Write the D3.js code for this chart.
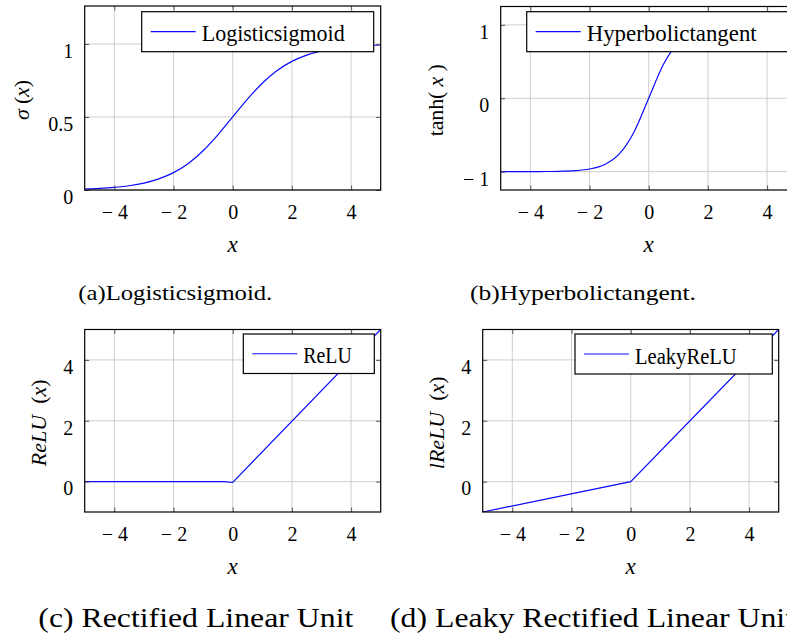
<!DOCTYPE html>
<html>
<head>
<meta charset="utf-8">
<script src="https://cdn.jsdelivr.net/npm/d3@7"></script>
<style>
  body { margin: 0; background: #fff; }
  text { font-family: "Liberation Serif", serif; fill: #000; }
</style>
</head>
<body>
<div id="chart"></div>
<script>
// x samples shared by the smooth curves
var curveX = [-5, -4.5, -4, -3.5, -3, -2.5, -2, -1.5, -1, -0.5, 0, 0.5, 1, 1.5, 2, 2.5, 3, 3.5, 4, 4.5, 5];
// values
var sigmoidY = [0.007, 0.011, 0.018, 0.029, 0.047, 0.076, 0.119, 0.182, 0.269, 0.378, 0.5,
  0.622, 0.731, 0.818, 0.881, 0.924, 0.953, 0.971, 0.982, 0.989, 0.993];
var tanhY = [-1.0, -1.0, -0.999, -0.998, -0.995, -0.987, -0.964, -0.905, -0.762, -0.462, 0,
  0.462, 0.762, 0.905, 0.964, 0.987, 0.995, 0.998, 0.999, 1.0, 1.0];
var reluX = [-5, -0.3, 0, 5];
var reluY = [0, 0, -0.03, 5];
var leakyX = [-5, 0, 5];
var leakyY = [-1, 0, 5];

var xTicks = [-4, -2, 0, 2, 4];
var sigmoidTicks = [0, 0.5, 1];
var tanhTicks = [-1, 0, 1];
var reluTicks = [0, 2, 4];

var legendNames = ['Logisticsigmoid', 'Hyperbolictangent', 'ReLU', 'LeakyReLU'];
var captionsTop = ['(a)Logisticsigmoid.', '(b)Hyperbolictangent.'];
var captionsBottom = ['(c) Rectified Linear Unit', '(d) Leaky Rectified Linear Unit'];

var fmt = function(d) { return d < 0 ? '\u2212 ' + Math.abs(d) : String(d); };
var blue = '#0a0aff';

var svg = d3.select('#chart').append('svg')
  .attr('width', 787)
  .attr('height', 635)
  .style('display', 'block');

var panels = [
  { left: 84.7, top: 6, w: 296, h: 184, yDomain: [0, 1.26], yTicks: sigmoidTicks,
    xs: curveX, ys: sigmoidY, smooth: true, name: legendNames[0],
    legend: { x: 57, y: 5.7, w: 232, h: 40, tw: 143 },
    ylabel: [['\u03c3', true], [' (', false], ['x', true], [')', false]], ylabX: 28.5, ylabLen: 40 },
  { left: 500.7, top: 6.5, w: 296, h: 183.5, yDomain: [-1.25, 1.25], yTicks: tanhTicks,
    xs: curveX, ys: tanhY, smooth: true, name: legendNames[1],
    legend: { x: 26, y: 5.2, w: 263, h: 40, tw: 170 },
    ylabel: [['tanh( ', false], ['x', true], [' )', false]], ylabX: 443, ylabLen: 72 },
  { left: 84.7, top: 329.5, w: 296, h: 182.5, yDomain: [-1, 5], yTicks: reluTicks,
    xs: reluX, ys: reluY, smooth: false, name: legendNames[2],
    legend: { x: 158.6, y: 4.5, w: 131, h: 39.5, tw: 48.5 },
    ylabel: [['ReLU', true], ['  (', false], ['x', true], [')', false]], ylabX: 45.5, ylabLen: null },
  { left: 482.7, top: 329.5, w: 296, h: 182.5, yDomain: [-1, 5], yTicks: reluTicks,
    xs: leakyX, ys: leakyY, smooth: false, name: legendNames[3],
    legend: { x: 92.3, y: 4.5, w: 197.3, h: 40, tw: 101.7 },
    ylabel: [['lReLU', true], ['  (', false], ['x', true], [')', false]], ylabX: 444, ylabLen: null }
];

panels.forEach(function(p, i) { drawPanel(p, i); });

function drawPanel(p, i) {
  var g = svg.append('g').attr('transform', 'translate(' + p.left + ',' + p.top + ')');
  var x = d3.scaleLinear().domain([-5, 5]).range([0, p.w]);
  var y = d3.scaleLinear().domain(p.yDomain).range([p.h, 0]);

  // grid
  g.append('g').selectAll('line.gx').data(xTicks).enter().append('line')
    .attr('x1', function(d) { return x(d); }).attr('x2', function(d) { return x(d); })
    .attr('y1', 0).attr('y2', p.h)
    .attr('stroke', '#cfcfcf').attr('stroke-width', 1);
  g.append('g').selectAll('line.gy').data(p.yTicks).enter().append('line')
    .attr('y1', function(d) { return y(d); }).attr('y2', function(d) { return y(d); })
    .attr('x1', 0).attr('x2', p.w)
    .attr('stroke', '#cfcfcf').attr('stroke-width', 1);

  // curve
  var clipId = 'clip' + i;
  g.append('clipPath').attr('id', clipId).append('rect')
    .attr('width', p.w).attr('height', p.h);
  var pts = p.xs.map(function(v, k) { return [v, p.ys[k]]; });
  var line = d3.line()
    .x(function(d) { return x(d[0]); })
    .y(function(d) { return y(d[1]); })
    .curve(p.smooth ? d3.curveMonotoneX : d3.curveLinear);
  g.append('path').datum(pts)
    .attr('clip-path', 'url(#' + clipId + ')')
    .attr('fill', 'none').attr('stroke', blue).attr('stroke-width', 1.2)
    .attr('d', line);

  // ticks on all four sides, pointing inward
  var bottom = g.append('g').attr('transform', 'translate(0,' + p.h + ')')
    .call(d3.axisBottom(x).tickValues(xTicks).tickSize(-4.5).tickFormat(fmt));
  g.append('g').call(d3.axisTop(x).tickValues(xTicks).tickSize(-4.5).tickFormat(''));
  var left = g.append('g')
    .call(d3.axisLeft(y).tickValues(p.yTicks).tickSize(-4.5).tickFormat(fmt));
  g.append('g').attr('transform', 'translate(' + p.w + ',0)')
    .call(d3.axisRight(y).tickValues(p.yTicks).tickSize(-4.5).tickFormat(''));
  g.selectAll('.domain').remove();
  g.selectAll('.tick line').attr('stroke', '#555');
  bottom.selectAll('.tick text')
    .attr('y', 28.5).attr('dy', null)
    .style('font-size', '20px').style('font-family', '"Liberation Serif", serif');
  // labels of the y axis hang below their tick, as in the source figure
  left.selectAll('.tick text')
    .attr('x', -11.5).attr('dy', '0.67em')
    .style('font-size', '20px').style('font-family', '"Liberation Serif", serif');

  // frame
  g.append('rect').attr('width', p.w).attr('height', p.h)
    .attr('fill', 'none').attr('stroke', '#000').attr('stroke-width', 1.2);

  // legend
  var lg = g.append('g').attr('transform', 'translate(' + p.legend.x + ',' + p.legend.y + ')');
  lg.append('rect').attr('width', p.legend.w).attr('height', p.legend.h)
    .attr('fill', '#fff').attr('stroke', '#000').attr('stroke-width', 1.2);
  lg.append('line')
    .attr('x1', 9).attr('x2', 54).attr('y1', p.legend.h / 2).attr('y2', p.legend.h / 2)
    .attr('stroke', blue).attr('stroke-width', 1.2);
  lg.append('text').text(p.name)
    .attr('x', 60).attr('y', p.legend.h / 2 + 9.5)
    .attr('textLength', p.legend.tw).attr('lengthAdjust', 'spacingAndGlyphs')
    .style('font-size', '23px');

  // axis labels
  g.append('text').text('x')
    .attr('x', p.w / 2).attr('y', p.h + 61.5)
    .attr('text-anchor', 'middle')
    .style('font-size', '23px').style('font-style', 'italic');

  var yl = svg.append('text')
    .attr('transform', 'translate(' + p.ylabX + ',' + (p.top + p.h / 2 + 2) + ') rotate(-90)')
    .attr('text-anchor', 'middle')
    .style('font-size', '22px')
    .style('white-space', 'pre');
  if (p.ylabLen) yl.attr('textLength', p.ylabLen).attr('lengthAdjust', 'spacing');
  p.ylabel.forEach(function(part) {
    yl.append('tspan').text(part[0]).style('font-style', part[1] ? 'italic' : 'normal');
  });
}

// captions
svg.selectAll('text.capTop').data(captionsTop).enter().append('text')
  .attr('class', 'capTop')
  .attr('x', function(d, i) { return i === 0 ? 78.3 : 470; })
  .attr('y', 300)
  .attr('textLength', function(d, i) { return i === 0 ? 194 : 226; })
  .attr('lengthAdjust', 'spacingAndGlyphs')
  .style('font-size', '22px')
  .text(function(d) { return d; });

svg.selectAll('text.capBottom').data(captionsBottom).enter().append('text')
  .attr('class', 'capBottom')
  .attr('x', function(d, i) { return i === 0 ? 38.3 : 390; })
  .attr('y', 626.5)
  .attr('textLength', function(d, i) { return i === 0 ? 315 : 404; })
  .attr('lengthAdjust', 'spacingAndGlyphs')
  .style('font-size', '28px')
  .text(function(d) { return d; });
</script>
</body>
</html>
